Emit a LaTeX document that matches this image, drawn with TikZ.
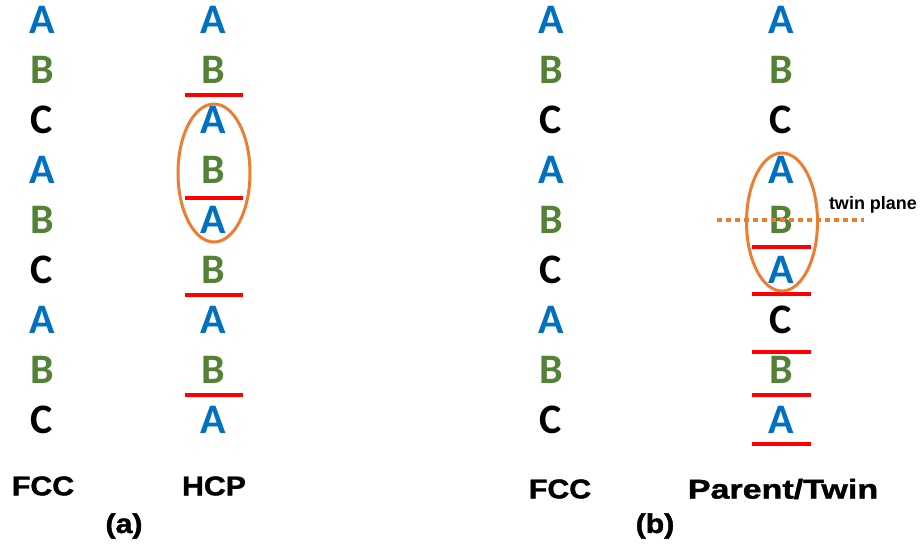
\documentclass[tikz,border=0pt]{standalone}
\usepackage{fontspec}
\usepackage{xcolor}
\newfontfamily\layerfont{Carlito}
\newfontfamily\heavyfont[FakeBold=1.6,FakeStretch=1.12]{Liberation Sans}
\newfontfamily\heavywide[FakeBold=1.6,FakeStretch=1.26]{Liberation Sans}
\newfontfamily\notefont{Liberation Sans}
\definecolor{layerA}{HTML}{0070C0}
\definecolor{layerB}{HTML}{538135}
\definecolor{layerC}{HTML}{000000}
\definecolor{plane}{HTML}{FF0000}
\definecolor{twin}{HTML}{ED7D31}
\tikzset{
	layer/.style={inner sep=0pt, font=\layerfont\bfseries\fontsize{42}{42}\selectfont},
	caption/.style={inner sep=0pt, font=\heavyfont\bfseries\fontsize{27}{27}\selectfont},
	fault/.style={draw=plane, line width=4pt},
	grain/.style={draw=twin, line width=3pt}
}

\begin{document}
\begin{tikzpicture}[x=1pt, y=-1pt]

	\useasboundingbox (0,0) rectangle (922,544);

	% Stacking sequences, one column each
	\foreach \l [count=\i] in {A,B,C,A,B,C,A,B,C}
		\node[layer, text=layer\l] (fcca-\i) at (42,{20+50*(\i-1)}) {\l};
	\foreach \l [count=\i] in {A,B,A,B,A,B,A,B,A}
		\node[layer, text=layer\l] (hcp-\i) at (213,{20+50*(\i-1)}) {\l};
	\foreach \l [count=\i] in {A,B,C,A,B,C,A,B,C}
		\node[layer, text=layer\l] (fccb-\i) at (551,{20+50*(\i-1)}) {\l};
	\foreach \l [count=\i] in {A,B,C,A,B,A,C,B,A}
		\node[layer, text=layer\l] (twin-\i) at (781,{20+50*(\i-1)}) {\l};

	% Stacking faults in the HCP column
	\foreach \y in {95,198,295,395}
		\draw[fault] (185,\y) -- (243,\y);

	% Stacking faults in the parent/twin column
	\foreach \y in {247,294,352,395,444}
		\draw[fault] (752,\y) -- (811,\y);

	% Circled units
	\draw[grain] (214,173) ellipse (36 and 69);
	\draw[grain] (782,222) ellipse (35.5 and 69);

	% Twin plane
	\coordinate (plane-l) at (717,220);
	\coordinate (plane-r) at (864,220);
	\draw[draw=twin, line width=4pt, dash pattern=on 5pt off 4pt] (plane-l) -- (plane-r);
	\node[inner sep=0pt, font=\notefont\bfseries\fontsize{18}{18}\selectfont] (plane) at (873,205) {twin plane};

	% Captions
	\node[caption] (fcca) at (43,486) {FCC};
	\node[caption] (hcp) at (214,486) {HCP};
	\node[caption] (cap-a) at (124,526) {(a)};
	\node[caption] (fccb) at (560,489) {FCC};
	\node[caption, font=\heavywide\bfseries\fontsize{27}{27}\selectfont] (twin) at (783,489) {Parent/Twin};
	\node[caption] (cap-b) at (655,526) {(b)};

\end{tikzpicture}
\end{document}
